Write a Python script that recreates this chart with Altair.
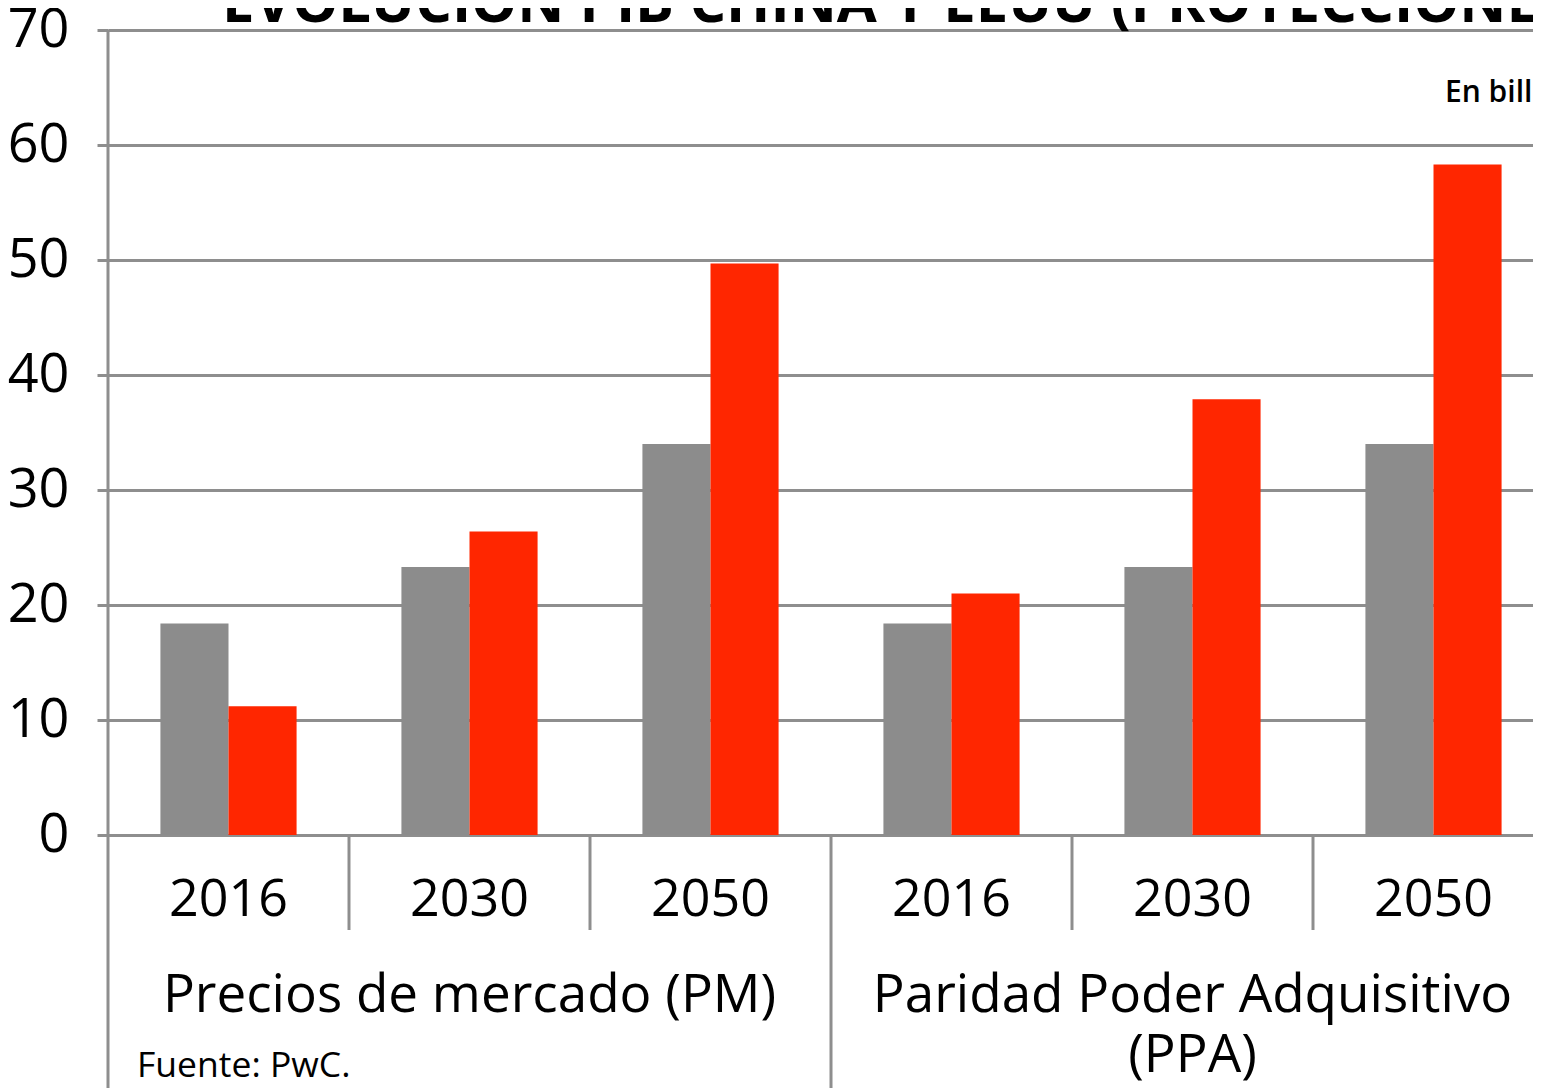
import altair as alt
import pandas as pd

# ---- data ----
group_keys = ["PM", "PPA"]
group_labels = ["Precios de mercado (PM)", "Paridad Poder Adquisitivo\n(PPA)"]
years = ["2016", "2030", "2050"]
series = ["EEUU", "China"]
eeuu_pm = [18.4, 23.3, 34.0]
china_pm = [11.2, 26.4, 49.7]
eeuu_ppa = [18.4, 23.3, 34.0]
china_ppa = [21.0, 37.9, 58.3]
y_ticks = [0, 10, 20, 30, 40, 50, 60, 70]
colors = ["#8c8c8c", "#ff2600"]
title_text = "EVOLUCIÓN PIB CHINA Y EEUU (PROYECCIONES)"
unit_text = "En billones de dólares"
source_text = "Fuente: PwC."

FONT = "Open Sans"
GRID = "#8e8e8e"

cats = [f"{g} {y}" for g in group_keys for y in years]
values = {("PM", "EEUU"): eeuu_pm, ("PM", "China"): china_pm,
          ("PPA", "EEUU"): eeuu_ppa, ("PPA", "China"): china_ppa}

rows = []
for g in group_keys:
    for i, y in enumerate(years):
        for s in series:
            rows.append({"cat": f"{g} {y}", "series": s, "value": values[(g, s)][i]})
bars_df = pd.DataFrame(rows)

year_df = pd.DataFrame({"cat": cats, "year": [y for g in group_keys for y in years]})
group_df = pd.DataFrame({"cat": [f"{g} {years[1]}" for g in group_keys], "label": group_labels})
yearsep_df = pd.DataFrame({"cat": [f"{g} {y}" for g in group_keys for y in years[1:]]})
groupsep_df = pd.DataFrame({"cat": [f"{g} {years[0]}" for g in group_keys[1:]]})
leftsep_df = pd.DataFrame({"cat": [f"{group_keys[0]} {years[0]}"]})

# the reference is cropped: the last band runs past the right edge
xscale = alt.Scale(domain=cats, range=[0, 1446], paddingInner=0, paddingOuter=0)


def xenc(**kw):
    return alt.X("cat:N", sort=cats, scale=xscale, axis=None, **kw)


bars = alt.Chart(bars_df).mark_bar().encode(
    x=xenc(),
    xOffset=alt.XOffset("series:N", sort=series,
                        scale=alt.Scale(domain=series, paddingInner=0, paddingOuter=0.77)),
    y=alt.Y("value:Q",
            scale=alt.Scale(domain=[0, 70], nice=False),
            axis=alt.Axis(values=y_ticks, grid=True, gridColor=GRID, gridWidth=3,
                          domain=False, ticks=True, tickSize=11, tickColor=GRID, tickWidth=3,
                          labelFont=FONT, labelFontSize=54, labelColor="#000000",
                          labelPadding=28, title=None)),
    color=alt.Color("series:N", sort=series,
                    scale=alt.Scale(domain=series, range=colors), legend=None),
)

year_text = alt.Chart(year_df).mark_text(
    font=FONT, fontSize=52, color="#000000", baseline="alphabetic", align="center"
).encode(x=xenc(), y=alt.value(886), text="year:N")

group_text = alt.Chart(group_df).mark_text(
    font=FONT, fontSize=53, color="#000000", baseline="alphabetic", align="center",
    lineBreak="\n", lineHeight=60
).encode(x=xenc(), y=alt.value(982), text="label:N")

year_sep = alt.Chart(yearsep_df).mark_rule(color=GRID, strokeWidth=3).encode(
    x=xenc(bandPosition=0), y=alt.value(805), y2=alt.value(900))

group_sep = alt.Chart(groupsep_df).mark_rule(color=GRID, strokeWidth=3).encode(
    x=xenc(bandPosition=0), y=alt.value(805), y2=alt.value(1070))

left_sep = alt.Chart(leftsep_df).mark_rule(color=GRID, strokeWidth=3).encode(
    x=xenc(bandPosition=0), y=alt.value(0), y2=alt.value(1070))

title = alt.Chart(pd.DataFrame({"t": [title_text]})).mark_text(
    font=FONT, fontSize=58, fontWeight="bold", color="#000000",
    align="left", baseline="alphabetic"
).encode(x=alt.value(114), y=alt.value(-8), text="t:N")

unit = alt.Chart(pd.DataFrame({"t": [unit_text]})).mark_text(
    font=FONT, fontSize=30, fontWeight=600, color="#000000",
    align="left", baseline="alphabetic"
).encode(x=alt.value(1337), y=alt.value(72), text="t:N")

source = alt.Chart(pd.DataFrame({"t": [source_text]})).mark_text(
    font=FONT, fontSize=35.5, fontWeight=500, color="#000000",
    align="left", baseline="alphabetic"
).encode(x=alt.value(29), y=alt.value(1047), text="t:N")

chart = alt.layer(
    bars, year_sep, group_sep, left_sep, year_text, group_text, title, unit, source
).properties(
    width=1425, height=805,
    autosize=alt.AutoSizeParams(type="none"),
    padding={"left": 100, "top": 22, "right": 0, "bottom": 253},
    background="#ffffff",
).configure_view(stroke=None)

chart.save("out.html", embed_options={"renderer": "svg", "actions": False})
